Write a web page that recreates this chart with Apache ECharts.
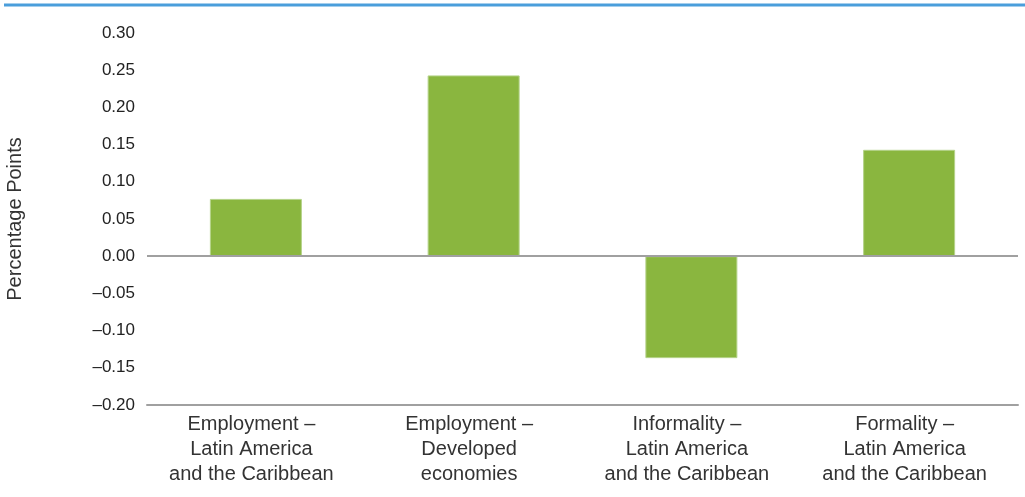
<!DOCTYPE html>
<html><head><meta charset="utf-8">
<script src="https://cdn.jsdelivr.net/npm/echarts@6/dist/echarts.min.js"></script>
<style>html,body{margin:0;padding:0;background:#fff}#c{width:1025px;height:497px}</style>
</head><body><div id="c"></div>
<script>
const categories = ["Employment –\nLatin America\nand the Caribbean", "Employment –\nDeveloped\neconomies", "Informality –\nLatin America\nand the Caribbean", "Formality –\nLatin America\nand the Caribbean"];
const values = [0.077, 0.243, -0.137, 0.143];
const yMin = -0.2, yMax = 0.3, yStep = 0.05;
const yName = "Percentage Points";

const chart = echarts.init(document.getElementById('c'), null, {renderer:'canvas'});
chart.setOption({
  animation: false,
  textStyle: {fontFamily: 'Liberation Sans, Arial, sans-serif'},
  graphic: [{type:'line', shape:{x1:4,y1:5,x2:1025,y2:5}, style:{stroke:'#4a9edb', lineWidth:3}}],
  grid: {left:147, right:7, top:33, bottom:92, outerBoundsMode:'none', containLabel:false},
  xAxis: {type:'category', data:categories,
    axisLine:{onZero:false, lineStyle:{color:'#a0a0a0', width:2}},
    axisTick:{show:false},
    axisLabel:{color:'#333', fontSize:20, lineHeight:25, margin:7, interval:0, padding:[0,9,0,0]}},
  yAxis: {type:'value', min:yMin, max:yMax, interval:yStep,
    name:yName, nameLocation:'middle', nameGap:122, nameRotate:90,
    nameTextStyle:{color:'#333', fontSize:20},
    axisLine:{show:false}, axisTick:{show:false}, splitLine:{show:false},
    axisLabel:{color:'#222', fontSize:17, margin:12, formatter:v=>{const s=Math.abs(v).toFixed(2);return v< -1e-9?'–'+s:s;}}},
  series: [{type:'bar', data:values, barWidth:92,
    itemStyle:{color:'#8ab63f', borderColor:'#b5d38a', borderWidth:1},
    markLine:{silent:true, symbol:'none', label:{show:false},
      lineStyle:{color:'#a0a0a0', width:2, type:'solid'}, data:[{yAxis:0}]}}]
});
</script></body></html>
